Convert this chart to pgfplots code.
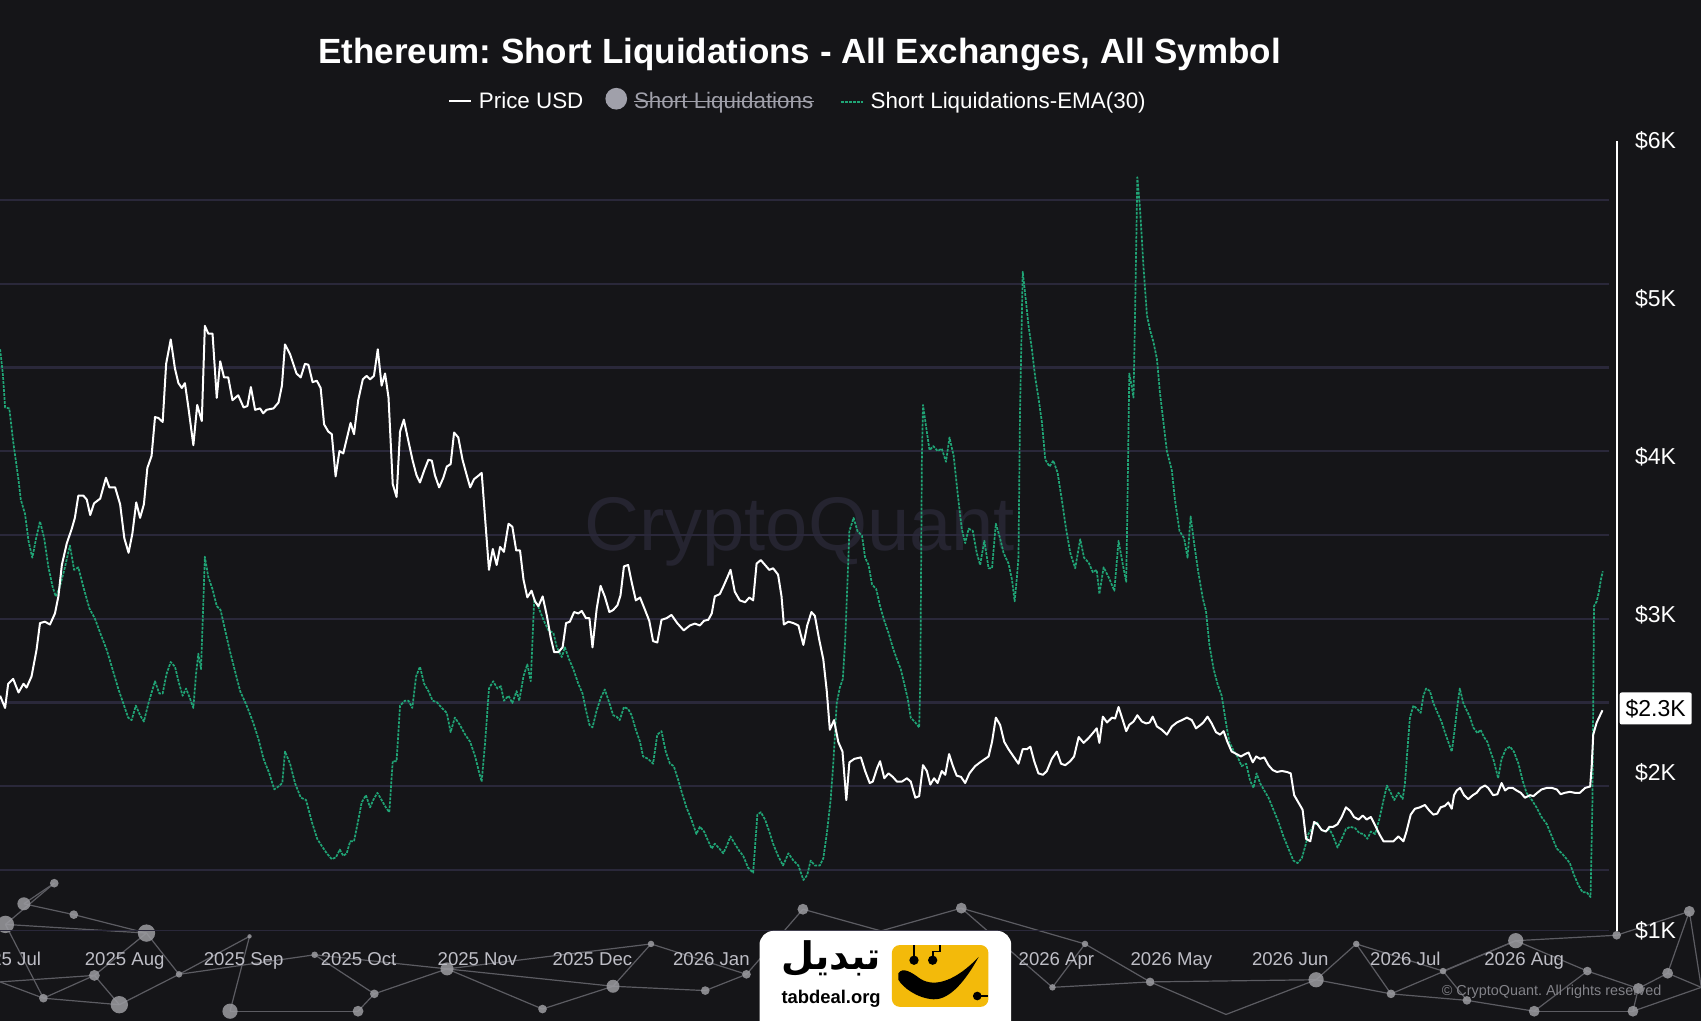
\documentclass[border=0pt]{standalone}
\usepackage{pgfplots}
\pgfplotsset{compat=1.18}
\usepackage{fontspec}
\setmainfont{Liberation Sans}
\newfontfamily\arabicfont[Script=Arabic]{DejaVu Sans}
\TeXXeTstate=1
\frenchspacing
\definecolor{bg}{RGB}{21,21,24}
\definecolor{gridc}{RGB}{42,40,58}
\definecolor{emac}{RGB}{32,165,118}
\definecolor{monthc}{RGB}{190,190,198}
\definecolor{wmc}{RGB}{37,36,48}
\definecolor{netl}{RGB}{92,92,98}
\definecolor{netd}{RGB}{155,155,160}
\definecolor{legg}{RGB}{160,160,170}
\definecolor{copyc}{RGB}{130,130,136}
\definecolor{logoy}{RGB}{243,186,10}

\pgfplotstableread{
x y
-1.5 2488
-0.2 2411
0.6 2564
1.9 2595
3.3 2509
4.6 2564
5.4 2540
6.7 2611
8.0 2779
8.9 2948
10.2 2957
11.5 2939
12.8 3009
13.7 3117
14.6 3316
15.9 3454
17.2 3546
18.0 3614
18.9 3755
20.2 3755
21.1 3730
22.0 3632
23.0 3706
24.6 3736
26.1 3868
27.0 3807
28.5 3807
29.8 3700
30.9 3485
32.0 3393
33.0 3515
34.0 3712
35.0 3614
36.0 3700
36.9 3930
38.0 4006
38.9 4252
39.8 4246
40.9 4221
41.8 4589
43.0 4743
44.1 4559
45.0 4467
45.9 4436
46.7 4467
47.6 4313
48.9 4074
49.9 4329
51.1 4227
51.9 4829
52.8 4780
53.9 4780
55.0 4374
55.9 4605
56.9 4503
58.0 4503
59.1 4359
60.6 4390
62.0 4313
63.0 4322
63.9 4442
65.0 4298
66.3 4307
67.1 4276
68.0 4298
69.8 4307
71.1 4344
72.0 4451
72.8 4712
74.1 4651
75.8 4528
76.9 4503
78.0 4589
78.9 4583
80.0 4473
81.1 4482
82.1 4436
83.0 4206
84.1 4160
85.0 4144
86.0 3877
87.0 4037
88.0 4022
88.9 4114
89.9 4215
90.8 4144
91.9 4359
93.1 4491
94.1 4513
95.0 4491
96.0 4513
97.0 4681
98.0 4451
98.9 4528
99.8 4375
100.9 3828
101.9 3746
102.8 4160
103.8 4236
105.0 4098
106.1 3976
107.1 3884
108.0 3838
109.1 3914
110.2 3982
111.1 3976
111.9 3884
113.0 3807
114.1 3868
115.0 3939
116.0 3954
116.9 4154
118.0 4123
119.1 3982
120.2 3884
121.1 3807
122.1 3859
123.1 3878
124.1 3899
125.0 3608
126.0 3285
127.0 3417
128.0 3316
128.9 3430
129.9 3399
131.1 3577
132.1 3558
133.1 3408
134.1 3408
135.0 3224
136.0 3111
137.1 3153
138.0 3086
138.9 3055
140.0 3117
141.1 2994
142.1 2856
143.0 2764
144.1 2764
145.2 2795
146.1 2948
147.1 2957
148.2 3018
149.3 3009
150.2 3025
151.3 2979
152.2 2979
153.0 2795
154.1 3040
155.1 3184
156.2 3117
157.4 3018
158.4 3031
159.5 3061
160.3 3123
161.2 3307
162.3 3316
163.2 3209
164.3 3092
165.4 3110
166.7 3031
167.8 2963
168.8 2834
169.9 2825
171.0 2969
172.3 2979
173.6 3000
175.1 2948
176.8 2902
178.4 2933
179.7 2945
181.0 2933
182.1 2963
183.2 2969
184.1 3009
184.9 3117
186.2 3132
187.1 3178
188.2 3239
189.0 3285
190.1 3147
191.4 3092
192.8 3080
193.9 3110
194.9 3092
195.8 3325
196.9 3347
198.0 3316
199.1 3285
200.1 3295
201.4 3255
202.3 3117
202.9 2939
204.1 2957
205.4 2948
206.7 2933
208.0 2810
209.0 2933
210.1 3018
211.0 2994
212.1 2847
213.2 2718
214.1 2518
214.9 2273
216.0 2334
217.1 2196
218.2 2135
219.2 1828
220.0 2067
221.3 2089
223.0 2098
224.1 2012
225.3 1936
226.1 1945
227.2 2028
228.0 2074
229.1 1966
230.2 1997
231.3 1975
232.4 1945
233.7 1945
235.0 1966
236.0 1945
237.2 1843
238.2 1853
239.2 2049
240.2 2012
241.1 1926
242.1 1966
243.0 1936
244.1 2012
245.0 1988
246.0 2119
247.0 2043
248.0 1982
249.1 1975
250.2 1936
251.3 1997
252.8 2043
254.1 2067
255.4 2089
256.3 2104
257.2 2196
258.2 2350
259.3 2304
260.4 2196
261.5 2150
262.8 2104
264.1 2058
265.2 2150
266.3 2150
267.2 2166
268.2 2074
269.3 1997
270.5 1988
271.5 2012
272.8 2089
274.1 2135
275.2 2058
276.3 2049
277.6 2074
278.6 2104
279.8 2227
281.1 2190
282.4 2221
283.7 2258
284.5 2282
285.2 2190
286.1 2356
287.2 2319
288.5 2350
289.3 2344
290.2 2417
291.3 2334
292.2 2264
293.0 2304
294.1 2325
295.1 2365
296.3 2325
297.4 2313
298.3 2319
299.1 2356
300.2 2294
301.5 2273
302.8 2242
304.1 2294
305.4 2319
306.7 2334
308.0 2350
309.3 2334
310.4 2282
311.6 2304
312.3 2319
313.4 2356
314.5 2313
315.6 2258
316.7 2242
317.6 2264
318.6 2196
319.7 2135
321.0 2119
322.1 2104
323.2 2119
324.1 2129
325.2 2067
326.1 2104
327.1 2089
328.2 2098
329.3 2049
330.4 2018
331.5 2006
332.8 2012
334.1 2006
335.1 1997
336.0 1859
337.1 1813
338.2 1767
339.1 1583
340.2 1567
341.2 1690
342.1 1675
343.2 1638
344.3 1629
345.2 1659
346.2 1659
347.3 1675
348.4 1721
349.5 1782
350.6 1760
351.6 1721
352.8 1705
353.9 1730
354.9 1705
356.0 1721
357.1 1669
358.2 1613
359.3 1567
360.6 1567
361.9 1567
363.2 1598
364.5 1567
365.3 1629
366.4 1736
367.5 1773
368.8 1782
370.1 1797
371.3 1760
372.3 1736
373.3 1742
374.2 1782
375.3 1791
376.2 1813
377.1 1773
377.7 1859
378.4 1889
379.3 1905
380.3 1859
381.4 1834
382.6 1859
383.6 1874
384.6 1905
385.8 1920
386.6 1905
387.9 1859
389.0 1865
390.1 1936
391.0 1889
391.9 1905
393.0 1905
394.0 1889
395.1 1874
396.2 1843
397.5 1859
398.4 1853
399.4 1874
400.5 1895
401.9 1905
403.2 1905
404.5 1895
405.5 1865
406.6 1874
407.9 1880
409.2 1874
410.5 1874
411.9 1905
413.2 1914
413.6 2043
414.0 2242
414.9 2319
415.8 2365
416.4 2396
}\pricedata

\pgfplotstableread{
x y
-1.5 4681
-0.8 4528
-0.2 4313
0.9 4307
1.9 4098
3.3 3853
3.9 3730
5.0 3638
5.9 3469
6.9 3362
7.9 3485
8.9 3592
10.0 3485
11.1 3301
12.2 3178
13.0 3117
14.1 3178
15.4 3301
16.7 3439
17.8 3285
18.9 3301
20.2 3178
21.8 3040
23.2 2978
24.6 2886
26.3 2779
28.0 2641
29.3 2534
30.6 2442
31.9 2350
32.8 2334
33.9 2426
35.0 2365
36.0 2325
37.2 2442
38.9 2580
40.0 2503
40.9 2503
41.9 2626
43.0 2702
44.1 2672
45.2 2564
46.1 2488
47.0 2534
48.0 2472
48.9 2411
49.6 2626
50.2 2755
50.9 2657
51.9 3368
52.8 3239
53.9 3163
55.0 3055
56.0 3031
57.2 2902
58.5 2764
59.8 2641
61.1 2518
62.8 2426
64.5 2319
65.9 2212
67.2 2089
68.7 1997
70.0 1896
71.1 1914
72.1 1936
72.8 2135
74.1 2060
75.4 1936
76.9 1844
78.3 1828
79.8 1690
81.2 1583
82.4 1537
83.7 1491
85.0 1454
86.1 1466
87.1 1515
88.0 1475
88.9 1491
89.8 1567
90.8 1567
91.7 1675
92.8 1813
93.9 1859
95.0 1782
95.8 1828
96.9 1874
98.0 1828
99.1 1782
100.0 1751
100.9 2074
101.9 2074
102.8 2426
104.1 2457
105.0 2457
106.0 2411
107.0 2611
108.0 2672
109.1 2564
110.2 2518
111.3 2457
112.4 2448
113.7 2411
115.0 2380
116.0 2258
117.1 2350
118.4 2304
119.8 2242
121.1 2196
122.4 2104
123.5 1997
124.1 1945
125.0 2196
126.0 2534
127.1 2580
128.2 2534
129.1 2549
129.9 2457
131.1 2488
132.1 2442
133.2 2518
133.9 2457
135.0 2611
136.0 2687
136.9 2580
137.8 3101
138.9 3049
140.2 2969
141.5 2902
142.8 2887
143.7 2795
145.0 2733
145.8 2795
146.9 2718
148.0 2657
149.3 2564
150.4 2503
151.3 2396
152.2 2304
153.0 2288
154.1 2396
155.1 2472
156.2 2528
157.4 2442
158.4 2365
159.3 2356
160.1 2334
161.2 2417
162.3 2405
163.2 2365
164.3 2273
165.4 2196
166.2 2104
167.5 2089
168.8 2058
169.9 2242
171.0 2264
172.1 2135
173.2 2058
174.2 2043
175.4 1951
176.5 1859
177.5 1782
178.8 1705
180.1 1613
181.0 1659
182.1 1629
183.2 1567
184.1 1521
184.9 1552
186.1 1521
187.1 1491
188.0 1537
189.0 1598
190.1 1552
191.3 1506
192.3 1475
193.6 1399
194.9 1368
196.0 1736
196.9 1751
198.0 1705
199.1 1629
200.1 1552
201.4 1475
202.7 1414
204.1 1491
205.4 1445
206.7 1414
208.0 1322
209.0 1353
209.9 1445
211.0 1414
212.3 1414
213.2 1460
214.1 1613
215.1 1828
215.8 2058
216.7 2442
217.5 2540
218.3 2595
218.9 2840
219.5 3209
220.0 3531
221.1 3614
222.1 3531
223.3 3500
224.1 3362
225.0 3316
225.9 3193
227.0 3163
228.0 3055
229.1 2963
230.2 2886
231.3 2795
232.4 2718
233.4 2657
234.3 2564
235.2 2472
236.0 2350
237.2 2319
238.2 2288
238.5 2595
238.9 3976
239.2 4329
240.0 4190
240.9 4043
241.9 4068
243.0 4037
244.1 4052
245.2 3969
246.1 4123
247.2 4006
248.2 3776
249.3 3546
250.2 3454
251.1 3546
252.2 3531
253.2 3393
254.1 3316
255.2 3469
256.3 3295
257.2 3295
258.2 3577
259.3 3485
260.2 3393
261.5 3325
262.4 3224
263.1 3086
263.7 3239
264.1 3362
264.5 4283
265.2 5172
265.9 5019
266.7 4835
267.6 4681
268.5 4497
269.3 4375
270.2 4221
271.1 3982
272.2 3939
273.2 3976
274.3 3899
275.4 3730
276.5 3546
277.6 3393
278.9 3295
280.2 3479
281.2 3362
282.4 3331
283.5 3270
284.5 3285
285.2 3132
286.3 3301
287.6 3239
289.1 3153
290.2 3469
291.3 3320
292.2 3209
292.5 3669
293.0 4528
293.6 4451
294.1 4375
294.5 4896
295.1 5770
295.8 5571
296.7 5203
297.6 4896
298.4 4804
299.3 4727
300.2 4620
301.0 4405
301.9 4221
302.8 4037
304.1 3914
304.9 3730
306.1 3531
307.3 3485
308.2 3362
309.0 3623
309.9 3454
311.0 3270
312.2 3101
313.0 3025
313.9 2810
315.0 2656
316.0 2564
317.1 2488
318.2 2319
319.1 2196
320.2 2141
321.2 2104
322.3 2043
323.5 2058
324.5 1951
325.4 1905
326.2 1997
327.1 1936
328.2 1889
329.3 1843
330.6 1767
331.9 1690
333.2 1598
334.5 1521
335.8 1445
336.9 1429
338.0 1460
338.9 1537
339.7 1613
340.9 1659
341.9 1690
342.9 1644
344.1 1629
345.2 1644
346.2 1598
347.3 1527
348.4 1583
349.5 1644
350.6 1659
351.9 1650
353.0 1619
354.1 1613
355.1 1583
356.0 1629
357.1 1613
358.2 1705
359.3 1828
360.2 1920
361.2 1874
362.1 1828
363.2 1874
364.3 1835
364.9 1936
365.5 2135
366.2 2350
367.1 2426
368.1 2405
369.0 2380
369.7 2488
370.4 2534
371.4 2518
372.3 2442
373.3 2386
374.5 2319
375.3 2258
376.2 2196
377.1 2135
377.7 2242
378.6 2426
379.2 2534
380.1 2442
381.0 2396
381.9 2350
382.7 2288
383.8 2251
384.6 2273
385.5 2227
386.4 2196
387.2 2135
388.1 2074
389.2 1966
390.1 2089
391.2 2150
392.3 2166
393.3 2135
394.5 2058
395.6 1951
396.6 1874
398.0 1828
399.2 1782
400.5 1721
401.9 1675
403.2 1598
404.5 1521
405.8 1491
406.9 1460
407.9 1429
409.0 1353
410.1 1291
411.2 1245
412.3 1245
413.3 1214
413.8 1828
414.2 3055
414.9 3086
415.5 3147
416.0 3224
416.5 3276
}\emadata

\begin{document}
\begin{tikzpicture}
\fill[bg] (0,0) rectangle (850.5pt,510.5pt);
% background decorations in reference pixel units
\begin{scope}[shift={(0,510.5pt)}, x=0.5425pt, y=-0.5425pt]
\node[text=wmc, font=\fontsize{38}{40}\selectfont] at (737,490) {CryptoQuant};
\coordinate (a) at (5,852); \coordinate (b) at (22,833); \coordinate (c) at (50,814);
\coordinate (d) at (68,843); \coordinate (e) at (135,860); \coordinate (f) at (87,899);
\coordinate (g) at (40,920); \coordinate (h) at (110,926); \coordinate (i) at (165,898);
\coordinate (j) at (230,863); \coordinate (k) at (212,932); \coordinate (l) at (330,932);
\coordinate (m) at (345,916); \coordinate (n) at (412,893); \coordinate (o) at (565,909);
\coordinate (p) at (650,913); \coordinate (q) at (688,898); \coordinate (r) at (740,838);
\coordinate (s) at (886,837); \coordinate (t) at (812,858); \coordinate (u) at (970,910);
\coordinate (v) at (1060,905); \coordinate (w) at (1213,903); \coordinate (xx) at (1282,916);
\coordinate (yy) at (1397,867); \coordinate (zz) at (1463,895); \coordinate (A) at (1510,911);
\coordinate (B) at (1537,897); \coordinate (C) at (1557,840); \coordinate (D) at (1490,862);
\coordinate (E) at (1352,922); \coordinate (F) at (1414,932); \coordinate (G) at (1505,932);
\coordinate (H) at (0,905); \coordinate (I) at (290,880); \coordinate (J) at (500,930);
\coordinate (K) at (600,870); \coordinate (L) at (1000,870); \coordinate (M) at (1130,935);
\coordinate (N) at (1250,870); \coordinate (O) at (1330,895); \coordinate (P) at (1568,910);
\foreach \p/\q in {a/e,b/c,b/d,d/e,e/f,f/g,g/h,f/h,h/i,i/j,j/k,k/l,l/m,m/n,n/o,o/p,p/q,q/r,r/t,t/s,s/u,u/v,v/w,w/xx,xx/yy,yy/D,D/C,yy/zz,zz/A,A/B,B/C,zz/F,E/F,F/G,A/G,e/i,a/g,c/a,H/f,H/g,i/I,I/n,I/m,n/J,J/o,o/K,K/q,K/n,s/L,L/u,L/v,v/M,M/w,w/N,N/xx,N/O,O/E,O/yy,E/xx,B/P,C/P,G/P}
  \draw[netl, line width=0.6pt] (\p) -- (\q);
\foreach \p/\rr in {a/8,b/6,c/4,d/4,e/8,f/5,g/4,h/8,i/3,j/2,k/7,l/5,m/4,n/6,o/6,p/4,q/4,r/5,s/5,u/3,v/4,w/7,xx/4,yy/7,zz/4,A/5,B/5,C/5,D/4,E/4,F/5,G/5,I/3,J/4,K/3,L/3,N/3,O/3}
  \fill[netd, opacity=0.85] (\p) circle[radius=\rr];
\end{scope}

\begin{axis}[
  at={(0pt,45.05pt)}, anchor=south west,
  scale only axis, width=808.3pt, height=395pt,
  xmin=-1.53, xmax=420.1, ymin=1000, ymax=6000,
  axis x line*=bottom, axis y line*=right,
  x axis line style={draw=none},
  y axis line style={draw=white, line width=1.1pt},
  xtick={0,31,62,92,123,153,184,274,304,335,365,396},
  xticklabels={2025 Jul,2025 Aug,2025 Sep,2025 Oct,2025 Nov,2025 Dec,2026 Jan,2026 Apr,2026 May,2026 Jun,2026 Jul,2026 Aug},
  ytick={1000,2000,3000,4000,5000,6000},
  yticklabels={\$1K,\$2K,\$3K,\$4K,\$5K,\$6K},
  major tick length=0pt,
  xticklabel style={font=\fontsize{9.3}{11}\selectfont, text=monthc, anchor=base, inner sep=0pt, yshift=-17.4pt},
  yticklabel style={font=\fontsize{11.5}{13}\selectfont, text=white, anchor=west, inner sep=0pt, xshift=9pt},
]
\foreach \yy in {1000,1386,1916,2446,2976,3506,4036,4566,5096,5626}{
  \edef\tmp{\noexpand\draw[gridc, line width=1.1pt] (axis cs:-2,\yy) -- (axis cs:418,\yy);}\tmp
}
\addplot[emac, line width=0.85pt, dash pattern=on 1.4pt off 0.6pt, line join=round] table {\emadata};
\addplot[white, line width=1pt, line join=round] table {\pricedata};
\end{axis}

\begin{scope}[shift={(0,510.5pt)}, x=0.5425pt, y=-0.5425pt]
% title
\node[anchor=base, text=white, font=\bfseries\fontsize{17.5}{20}\selectfont] at (737,58.5) {Ethereum: Short Liquidations - All Exchanges, All Symbol};
% legend
\draw[white, line width=1pt] (414,93) -- (434,93);
\node[anchor=base west, inner sep=0pt, text=white, font=\fontsize{11.2}{13}\selectfont] at (441,100) {Price USD};
\fill[legg] (568,91) circle[radius=10];
\node[anchor=base west, inner sep=0pt, text=legg, font=\fontsize{11.2}{13}\selectfont] at (584,100) {Short Liquidations};
\draw[legg, line width=0.8pt] (584,93.5) -- (750,93.5);
\draw[emac, line width=0.85pt, dash pattern=on 1.4pt off 0.6pt] (775,94) -- (795,94);
\node[anchor=base west, inner sep=0pt, text=white, font=\fontsize{11.2}{13}\selectfont] at (802,100) {Short Liquidations-EMA(30)};
% last value box
\node[fill=white, text=black, inner sep=0pt, minimum width=36pt, minimum height=16pt, font=\fontsize{11.5}{13}\selectfont, rounded corners=1pt] at (1526,653) {\$2.3K};
% copyright
\node[text=copyc, font=\fontsize{7.2}{8}\selectfont] at (1430,914) {© CryptoQuant. All rights reserved};
% logo
\fill[white, rounded corners=7pt] (700,960) -- (700,858) -- (932,858) -- (932,960) -- cycle;
\node[text=black, inner sep=0pt, font=\arabicfont\bfseries\fontsize{19}{20}\selectfont] at (766,883) {\beginR تبدیل\endR};
\node[text=black, inner sep=0pt, font=\bfseries\fontsize{9.2}{10}\selectfont] at (766,921) {tabdeal.org};
\fill[logoy, rounded corners=4pt] (822,871) rectangle (911,928);
\draw[black, line width=0.9pt] (842.4,871) -- (842.4,882);
\draw[black, line width=0.9pt] (859.6,882) -- (859.6,877) -- (866,877) -- (866,871);
\fill[black] (842.4,885) circle[radius=4.3];
\fill[black] (859.6,885) circle[radius=4.3];
\fill[black] (828,897) .. controls (832,891) and (840,896) .. (848,902) .. controls (862,911) and (882,903) .. (902,882) .. controls (891,902) and (876,922) .. (860,921) .. controls (845,920) and (832,910) .. (828,903) -- cycle;
\draw[black, line width=0.9pt] (900,918) -- (911,918);
\fill[black] (900.7,918) circle[radius=4];
\end{scope}
\pgfresetboundingbox
\useasboundingbox (0,0) rectangle (850.5pt,510.5pt);
\end{tikzpicture}
\end{document}
